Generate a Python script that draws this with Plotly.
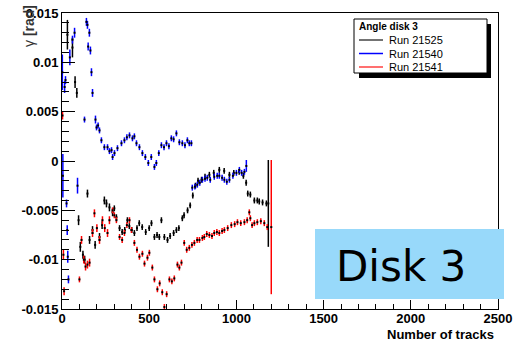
import plotly.graph_objects as go

# ---------------- data ----------------
run_names = ["Run 21525", "Run 21540", "Run 21541"]

x_21525 = [31, 60, 75, 85, 95, 105, 120, 130, 146, 158, 175, 190, 215, 230, 243, 255, 272, 290, 300, 312,
           330, 345, 360, 375, 386, 400, 415, 430, 443, 460, 480, 500, 513, 530, 545, 558, 570, 587, 605, 620,
           640, 656, 670, 690, 700, 720, 735, 750, 765, 780, 800, 820, 845, 870, 902, 930, 960, 985, 1016, 1040,
           1056, 1065, 1080, 1103, 1120, 1131, 1150, 1172, 1183]
y_21525 = [0.0128, 0.0115, 0.0080, 0.0069, -0.0060, -0.0087, -0.0095, -0.0100, -0.0033, -0.0080, -0.0070, -0.0085,
           -0.0077, -0.0065, -0.0040, -0.0043, -0.0047, -0.0052, -0.0048, -0.0057, -0.0068, -0.0072, -0.0070,
           -0.0060, -0.0066, -0.0070, -0.0073, -0.0068, -0.0063, -0.0067, -0.0072, -0.0068, -0.0063, -0.0077,
           -0.0075, -0.0077, -0.0060, -0.0077, -0.0080, -0.0076, -0.0073, -0.0070, -0.0068, -0.0058, -0.0055,
           -0.0050, -0.0045, -0.0035, -0.0025, -0.0020, -0.0019, -0.0016, -0.0014, -0.0012, -0.0009, -0.0010,
           -0.0014, -0.0012, -0.0011, -0.0015, -0.0022, -0.0033, -0.0034, -0.0040, -0.0040, -0.0041, -0.0042,
           -0.0043, -0.0043]
e_21525 = [0.0015, 0.0010, 0.0006, 0.0005, 0.0005, 0.0005, 0.0004, 0.0004, 0.0004, 0.0004, 0.0004, 0.0004,
           0.0004, 0.0004, 0.0004, 0.0004, 0.0004, 0.0004, 0.0003, 0.0003, 0.0003, 0.0003, 0.0003, 0.0003,
           0.0003, 0.0003, 0.0003, 0.0003, 0.0003, 0.0003, 0.0003, 0.0003, 0.0003, 0.0003, 0.0003, 0.0003,
           0.0003, 0.0003, 0.0003, 0.0003, 0.0003, 0.0003, 0.0003, 0.0003, 0.0003, 0.0003, 0.0003, 0.0003,
           0.0003, 0.0003, 0.0003, 0.0003, 0.0003, 0.0003, 0.0003, 0.0003, 0.0003, 0.0003, 0.0003, 0.0003,
           0.0003, 0.0003, 0.0003, 0.0003, 0.0003, 0.0003, 0.0003, 0.0003, 0.0044]

x_21540 = [2, 5, 15, 20, 26, 30, 33, 37, 45, 60, 72, 89, 129, 140, 146, 150, 157, 163, 169, 175,
           192, 198, 207, 215, 226, 243, 261, 272, 284, 290, 301, 318, 341, 358, 372, 387, 404, 415, 427, 444,
           461, 478, 495, 512, 530, 541, 555, 570, 585, 599, 613, 627, 640, 656, 673, 690, 705, 719, 730, 742,
           747, 762, 776, 790, 805, 820, 833, 850, 873, 890, 902, 918, 931, 945, 960, 980, 1000, 1017, 1030,
           1046, 1057]
y_21540 = [0.0090, -0.0015, 0.0075, 0.0082, -0.0043, -0.0070, -0.0097, -0.0120, 0.0105, 0.0123, 0.0130,
           -0.0025, 0.0042, 0.0141, 0.0138, 0.0116, 0.0130, 0.0112, 0.0090, 0.0069, 0.0042, 0.0034, 0.0036,
           0.0031, 0.0021, 0.0014, 0.0014, 0.0010, 0.0011, 0.0004, 0.0008, 0.0013, 0.0018, 0.0021, 0.0024,
           0.0026, 0.0023, 0.0025, 0.0018, 0.0014, 0.0008, 0.0004, -0.0002, 0.0004, -0.0006, -0.0002, 0.0008,
           0.0016, 0.0014, 0.0018, 0.0015, 0.0023, 0.0022, 0.0028, 0.0019, 0.0018, 0.0016, 0.0021, 0.0018,
           0.0018, -0.0027, -0.0026, -0.0024, -0.0022, -0.0019, -0.0018, -0.0017, -0.0019, -0.0016, -0.0015,
           -0.0015, -0.0017, -0.0019, -0.0021, -0.0019, -0.0015, -0.0012, -0.0009, -0.0012, -0.0011, -0.0005]
e_21540 = [0.0018, 0.0022, 0.0006, 0.0004, 0.0004, 0.0005, 0.0006, 0.0004, 0.0008, 0.0004, 0.0005,
           0.0008, 0.0003, 0.0004, 0.0004, 0.0004, 0.0004, 0.0004, 0.0004, 0.0004, 0.0004, 0.0003, 0.0003,
           0.0003, 0.0003, 0.0003, 0.0003, 0.0003, 0.0003, 0.0003, 0.0003, 0.0003, 0.0003, 0.0003, 0.0003,
           0.0003, 0.0003, 0.0003, 0.0003, 0.0003, 0.0003, 0.0003, 0.0003, 0.0003, 0.0003, 0.0003, 0.0003,
           0.0003, 0.0003, 0.0003, 0.0003, 0.0003, 0.0003, 0.0003, 0.0003, 0.0003, 0.0003, 0.0003, 0.0003,
           0.0003, 0.0003, 0.0003, 0.0003, 0.0003, 0.0003, 0.0003, 0.0003, 0.0003, 0.0003, 0.0003, 0.0003,
           0.0003, 0.0003, 0.0003, 0.0003, 0.0003, 0.0003, 0.0003, 0.0003, 0.0003, 0.0006]

x_21541 = [3, 8, 12, 100, 112, 125, 135, 146, 158, 175, 186, 200, 215, 232, 245, 261, 272, 290, 300, 312,
           330, 345, 358, 372, 387, 398, 415, 430, 444, 461, 473, 490, 501, 518, 530, 547, 560, 575, 587, 600,
           616, 630, 644, 662, 673, 685, 701, 715, 730, 745, 759, 775, 788, 805, 816, 830, 845, 860, 873, 888,
           902, 918, 931, 950, 971, 990, 1006, 1025, 1046, 1062, 1074, 1080, 1090, 1103, 1120, 1140, 1160,
           1177, 1200]
y_21541 = [0.0046, -0.0095, -0.0132, -0.0120, -0.0080, -0.0100, -0.0107, -0.0105, -0.0103, -0.0073, -0.0053,
           -0.0068, -0.0080, -0.0060, -0.0068, -0.0073, -0.0060, -0.0050, -0.0055, -0.0060, -0.0077, -0.0080,
           -0.0073, -0.0065, -0.0060, -0.0070, -0.0083, -0.0090, -0.0097, -0.0094, -0.0104, -0.0098, -0.0093,
           -0.0108, -0.0120, -0.0130, -0.0124, -0.0133, -0.0148, -0.0135, -0.0120, -0.0122, -0.0119, -0.0105,
           -0.0108, -0.0103, -0.0083, -0.0090, -0.0088, -0.0085, -0.0083, -0.0080, -0.0080, -0.0078, -0.0077,
           -0.0074, -0.0075, -0.0076, -0.0073, -0.0072, -0.0073, -0.0071, -0.0070, -0.0068, -0.0065, -0.0064,
           -0.0062, -0.0063, -0.0062, -0.0060, -0.0052, -0.0058, -0.0065, -0.0063, -0.0062, -0.0061, -0.0063,
           -0.0067, -0.0067]
e_21541 = [0.0004, 0.0005, 0.0004, 0.0003, 0.0004, 0.0004, 0.0004, 0.0004, 0.0004, 0.0004, 0.0004,
           0.0004, 0.0004, 0.0004, 0.0004, 0.0004, 0.0004, 0.0003, 0.0003, 0.0003, 0.0003, 0.0003, 0.0003,
           0.0003, 0.0003, 0.0003, 0.0003, 0.0003, 0.0003, 0.0003, 0.0003, 0.0003, 0.0003, 0.0003, 0.0003,
           0.0003, 0.0003, 0.0003, 0.0003, 0.0003, 0.0003, 0.0003, 0.0003, 0.0003, 0.0003, 0.0003, 0.0003,
           0.0003, 0.0003, 0.0003, 0.0003, 0.0003, 0.0003, 0.0003, 0.0003, 0.0003, 0.0003, 0.0003, 0.0003,
           0.0003, 0.0003, 0.0003, 0.0003, 0.0003, 0.0003, 0.0003, 0.0003, 0.0003, 0.0003, 0.0003, 0.0003,
           0.0003, 0.0003, 0.0003, 0.0003, 0.0003, 0.0003, 0.0003, 0.0068]

y_tick_vals = [-0.015, -0.01, -0.005, 0, 0.005, 0.01, 0.015]
y_tick_text = ["-0.015", "-0.01", "-0.005", "0", "0.005", "0.01", "0.015"]
x_tick_vals = [0, 500, 1000, 1500, 2000, 2500]
x_tick_text = ["0", "500", "1000", "1500", "2000", "2500"]

# ---------------- figure ----------------
W, H = 513, 342
L, R, T, B = 62, 498, 13, 309


def px(xp):
    return (xp - L) / (R - L)


def py(yp):
    return (B - yp) / (B - T)


series = [
    (x_21525, y_21525, e_21525, "black"),
    (x_21540, y_21540, e_21540, "#0000ff"),
    (x_21541, y_21541, e_21541, "#ff0000"),
]
fig = go.Figure()
for (xs, ys, es, col), name in zip(series, run_names):
    fig.add_trace(go.Scatter(
        x=xs, y=ys, mode="markers", name=name, showlegend=False,
        marker=dict(color="black", size=2, symbol="square"),
        error_y=dict(type="data", array=es, visible=True, color=col, thickness=1.5, width=0),
    ))

tickfont = dict(family="Liberation Sans", size=13, color="black", weight="bold")
fig.update_layout(
    width=W, height=H,
    margin=dict(l=L, r=W - R, t=T, b=H - B),
    paper_bgcolor="white", plot_bgcolor="white",
    xaxis=dict(range=[0, 2500], tickvals=x_tick_vals, ticktext=x_tick_text, ticks="inside",
               ticklen=9, tickwidth=1, tickcolor="black", showline=True, linecolor="black",
               linewidth=1, mirror=True, showgrid=False, zeroline=False, tickfont=tickfont,
               automargin=False, ticklabelstandoff=-3,
               minor=dict(dtick=100, ticks="inside", ticklen=5, tickcolor="black", tickwidth=1)),
    yaxis=dict(range=[-0.015, 0.015], tickvals=y_tick_vals, ticktext=y_tick_text, ticks="inside",
               ticklen=13, tickwidth=1, tickcolor="black", showline=True, linecolor="black",
               linewidth=1, mirror=True, showgrid=False, zeroline=False, tickfont=tickfont,
               automargin=False,
               minor=dict(dtick=0.001, ticks="inside", ticklen=7, tickcolor="black", tickwidth=1)),
)

shapes = []
annotations = []
# y title (partly hidden behind the top tick label, as in the original)
annotations.append(dict(x=px(29), y=py(3), xref="paper", yref="paper", xanchor="center", yanchor="top",
                        text="γ <b>[rad]</b>", textangle=-90, showarrow=False,
                        font=dict(family="Liberation Sans", size=14, color="#333")))
# x title
annotations.append(dict(x=px(496), y=py(334), xref="paper", yref="paper", xanchor="right", yanchor="middle",
                        text="<b>Number of tracks</b>", showarrow=False,
                        font=dict(family="Liberation Sans", size=13, color="black")))

# legend box with shadow
shapes.append(dict(type="rect", xref="paper", yref="paper", x0=px(359), x1=px(491), y0=py(78), y1=py(24),
                   fillcolor="black", line=dict(width=0)))
shapes.append(dict(type="rect", xref="paper", yref="paper", x0=px(354), x1=px(487), y0=py(73), y1=py(19),
                   fillcolor="white", line=dict(color="black", width=1)))
annotations.append(dict(x=px(357), y=py(26), xref="paper", yref="paper", xanchor="left", yanchor="middle",
                        text="<b>Angle disk 3</b>", showarrow=False,
                        font=dict(family="Liberation Sans", size=10, color="black")))
legend_cols = ["#444444", "#0000ff", "#ff4040"]
for i, (name, col) in enumerate(zip(run_names, legend_cols)):
    yy = 40 + i * 13.5
    shapes.append(dict(type="line", xref="paper", yref="paper", x0=px(359), x1=px(383), y0=py(yy), y1=py(yy),
                       line=dict(color=col, width=1.5)))
    annotations.append(dict(x=px(387), y=py(yy), xref="paper", yref="paper", xanchor="left", yanchor="middle",
                            text=name, showarrow=False,
                            font=dict(family="Liberation Sans", size=11, color="black")))

# Disk 3 label box
shapes.append(dict(type="rect", xref="paper", yref="paper", x0=px(315), x1=px(504), y0=py(299), y1=py(229),
                   fillcolor="#98D9FA", line=dict(width=0), layer="above"))
annotations.append(dict(x=px(401), y=py(266), xref="paper", yref="paper", xanchor="center", yanchor="middle",
                        text="Disk 3", showarrow=False,
                        font=dict(family="DejaVu Sans", size=42, color="black")))

fig.update_layout(shapes=shapes, annotations=annotations)
fig.write_html("out.html")
